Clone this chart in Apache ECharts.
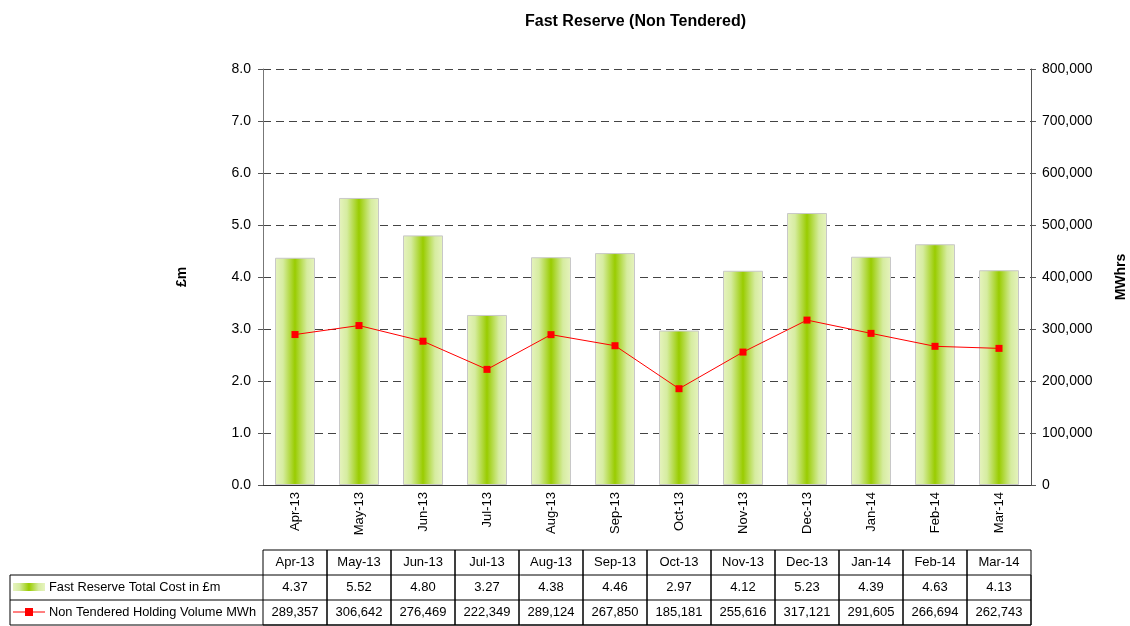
<!DOCTYPE html>
<html>
<head>
<meta charset="utf-8">
<script src="https://cdn.jsdelivr.net/npm/echarts@6/dist/echarts.min.js"></script>
<style>
  html, body { margin: 0; padding: 0; background: #fff; }
  #chart { width: 1130px; height: 626px; }
</style>
</head>
<body>
<div id="chart"></div>
<script>
const months = ['Apr-13', 'May-13', 'Jun-13', 'Jul-13', 'Aug-13', 'Sep-13', 'Oct-13', 'Nov-13', 'Dec-13', 'Jan-14', 'Feb-14', 'Mar-14'];
const totalCost = [4.37, 5.52, 4.80, 3.27, 4.38, 4.46, 2.97, 4.12, 5.23, 4.39, 4.63, 4.13];
const holdingVolume = [289357, 306642, 276469, 222349, 289124, 267850, 185181, 255616, 317121, 291605, 266694, 262743];
const costName = 'Fast Reserve Total Cost in £m';
const volumeName = 'Non Tendered Holding Volume MWh';

const W = 1130, H = 626;
const gLeft = 263, gRight = 1031, gTop = 69, gBottom = 485;
const colW = (gRight - gLeft) / months.length;
const font = 'Liberation Sans, Arial, sans-serif';

const barFill = new echarts.graphic.LinearGradient(0, 0, 1, 0, [
  { offset: 0, color: '#e6f3bf' },
  { offset: 0.2, color: '#d6eca0' },
  { offset: 0.5, color: '#99cc00' },
  { offset: 0.8, color: '#d6eca0' },
  { offset: 1, color: '#e6f3bf' }
]);

// data table under the chart
const rowY = [550, 575, 600, 625];
const cellStyle = { fill: 'none', stroke: '#000', lineWidth: 1 };
const txt = (x, y, s, align, size) => ({
  type: 'text', x: x, y: y,
  style: { text: s, font: (size || 13) + 'px ' + font, fill: '#000', align: align || 'center', verticalAlign: 'middle' }
});
const table = [];
months.forEach((m, i) => {
  const x = gLeft + i * colW;
  table.push({ type: 'rect', shape: { x: x, y: rowY[0], width: colW, height: rowY[3] - rowY[0] }, style: cellStyle });
  table.push(txt(x + colW / 2, (rowY[0] + rowY[1]) / 2, m));
  table.push(txt(x + colW / 2, (rowY[1] + rowY[2]) / 2, totalCost[i].toFixed(2)));
  table.push(txt(x + colW / 2, (rowY[2] + rowY[3]) / 2, holdingVolume[i].toLocaleString('en-GB')));
});
table.push({ type: 'rect', shape: { x: 10, y: rowY[1], width: gRight - 10, height: rowY[3] - rowY[1] }, style: cellStyle });
table.push({ type: 'line', shape: { x1: 10, y1: rowY[2], x2: gRight, y2: rowY[2] }, style: { stroke: '#000', lineWidth: 1 } });
table.push({ type: 'rect', shape: { x: 13, y: 583, width: 32, height: 8 }, style: { fill: barFill } });
table.push(txt(49, (rowY[1] + rowY[2]) / 2, costName, 'left', 12.8));
table.push({ type: 'line', shape: { x1: 13, y1: 612, x2: 45, y2: 612 }, style: { stroke: '#ff0000', lineWidth: 1 } });
table.push({ type: 'rect', shape: { x: 25, y: 608, width: 8, height: 8 }, style: { fill: '#ff0000' } });
table.push(txt(49, (rowY[2] + rowY[3]) / 2, volumeName, 'left', 12.8));

const chart = echarts.init(document.getElementById('chart'), null, { renderer: 'canvas' });
chart.setOption({
  animation: false,
  backgroundColor: '#fff',
  textStyle: { fontFamily: font },
  title: {
    text: 'Fast Reserve (Non Tendered)',
    left: 520, top: 9,
    textStyle: { fontSize: 16, fontWeight: 'bold', color: '#000', fontFamily: font }
  },
  grid: { left: gLeft, right: W - gRight, top: gTop, bottom: H - gBottom, outerBoundsMode: 'none', containLabel: false },
  xAxis: {
    type: 'category',
    data: months,
    axisLine: { lineStyle: { color: '#333' } },
    axisTick: { length: 5, lineStyle: { color: '#333' } },
    axisLabel: { rotate: 90, color: '#000', fontSize: 13, margin: 7 }
  },
  yAxis: [{
    type: 'value', min: 0, max: 8, interval: 1,
    name: '£m', nameLocation: 'middle', nameGap: 74, nameRotate: 90,
    nameTextStyle: { fontWeight: 'bold', fontSize: 14, color: '#000' },
    axisLine: { show: true, lineStyle: { color: '#777' } },
    axisTick: { show: true, length: 5, lineStyle: { color: '#555' } },
    axisLabel: { formatter: v => v.toFixed(1), color: '#000', fontSize: 14, margin: 12 },
    splitLine: { lineStyle: { color: '#444', type: [8, 5] } }
  }, {
    type: 'value', min: 0, max: 800000, interval: 100000,
    name: 'MWhrs', nameLocation: 'middle', nameGap: 83, nameRotate: 90,
    nameTextStyle: { fontWeight: 'bold', fontSize: 14, color: '#000' },
    axisLine: { show: true, lineStyle: { color: '#555' } },
    axisTick: { show: true, length: 5, lineStyle: { color: '#555' } },
    axisLabel: { formatter: v => v.toLocaleString('en-GB'), color: '#000', fontSize: 14, margin: 11 },
    splitLine: { show: false }
  }],
  series: [{
    name: costName,
    type: 'bar',
    data: totalCost,
    barWidth: 40,
    itemStyle: { color: barFill, borderColor: '#c8c8c8', borderWidth: 1 }
  }, {
    name: volumeName,
    type: 'line',
    yAxisIndex: 1,
    data: holdingVolume,
    symbol: 'rect',
    symbolSize: 7,
    lineStyle: { color: '#ff0000', width: 1 },
    itemStyle: { color: '#ff0000' }
  }],
  graphic: table
});
</script>
</body>
</html>
